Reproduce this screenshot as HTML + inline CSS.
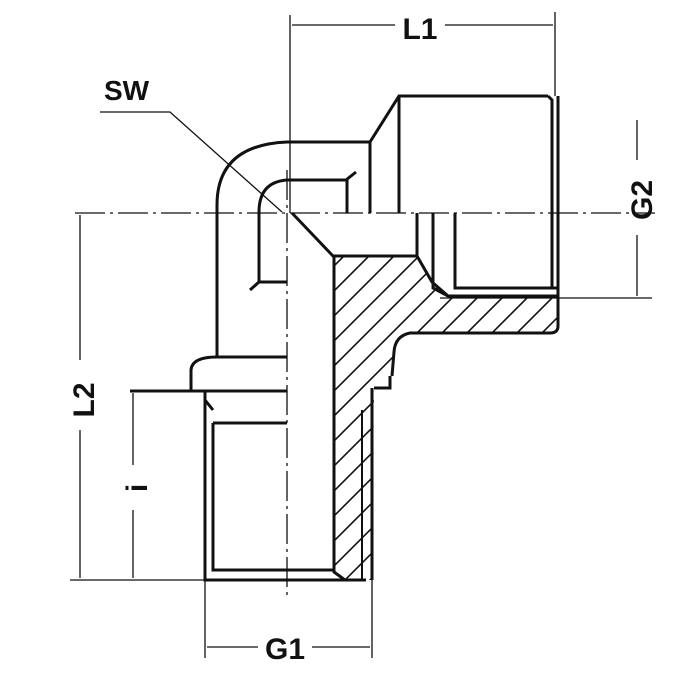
<!DOCTYPE html>
<html><head><style>
html,body{margin:0;padding:0;background:#fff;}
svg{display:block;}
text{font-family:"Liberation Sans",Arial,sans-serif;font-weight:bold;fill:#111;}
</style></head><body>
<svg width="700" height="700" viewBox="0 0 700 700" xmlns="http://www.w3.org/2000/svg">
<defs>
<clipPath id="hc"><path d="M334,257 L417,257 L432,282 L448,296 L552,298 L558,306 L558,326 L550,333 L410,333 Q395,336 394,352 L392,378 L374,388 L372,580 L345,580 L334,570 Z"/></clipPath>
</defs>
<g stroke="#111" fill="none" stroke-width="3">
<path d="M292,213 L333,256 L417,256 L417,213"/>
<path d="M417,256 L432,282 L448,296"/>
<path d="M334,256 L334,572 L345,580"/>
<path d="M370,213 L370,142 L399,96 L548,96"/>
<path d="M399,96 L399,213"/>
<path d="M548,96 L552,100 L552,288"/>
<path d="M558,96 L558,326 Q558,333 550,333 L410,333 Q395,336 394,352 L392,376"/>
<path d="M455,213 L455,288 L558,288"/>
<path d="M433,213 L433,288 L448,296 L558,296"/>
<path d="M287,142 L370,142"/>
<path d="M287,142 Q217,145 217,205 L217,357 L287,357"/>
<path d="M217,357 Q192,357 191,370 L191,391"/>
<path d="M130,391 L287,391"/>
<path d="M287,180 L346,180 L356,172"/>
<path d="M347,180 L347,213"/>
<path d="M287,180 Q259,182 259,212 L259,282 L250,290"/>
<path d="M259,282 L287,282"/>
<path d="M390,376 L390,388 L374,388"/>
<path d="M372,388 L372,580"/>
<path d="M362,410 L362,580" stroke-width="2"/>
<path d="M205,391 L205,580 L366,580"/>
<path d="M213,423 L213,570 L333,570"/>
<path d="M213,423 L287,423"/>
<path d="M205,400 L213,410"/>
</g>
<g clip-path="url(#hc)" stroke="#111" stroke-width="1.6">
<path d="M300,300 L560,40 M300,325 L585,40 M300,350 L610,40 M300,375 L635,40 M300,400 L660,40 M300,425 L685,40 M300,450 L710,40 M300,475 L735,40 M300,500 L760,40 M300,525 L785,40 M300,550 L810,40 M300,575 L835,40 M300,600 L860,40 M300,625 L885,40 M300,650 L910,40 M300,675 L935,40"/>
</g>
<g stroke="#111" stroke-width="1.3" fill="none">
<path d="M287,170 L287,600" stroke-dasharray="30,5,3,5"/>
<path d="M75,213 L655,213" stroke-dasharray="30,5,3,5"/>
<path d="M290,15 L290,213"/>
<path d="M555,12 L555,96"/>
<path d="M292,25 L395,25 M445,25 L553,25"/>
<path d="M440,298 L652,298"/>
<path d="M637,120 L637,160 M637,235 L637,296"/>
<path d="M70,580 L205,580"/>
<path d="M80,215 L80,360 M80,430 L80,578"/>
<path d="M133,393 L133,465 M133,510 L133,578"/>
<path d="M205,580 L205,658 M372,580 L372,658"/>
<path d="M207,647 L258,647 M312,647 L370,647"/>
<path d="M100,112 L170,112 L282,212"/>
</g>
<text x="420" y="39" font-size="30" text-anchor="middle">L1</text>
<text x="104" y="100" font-size="28">SW</text>
<text x="285" y="659" font-size="30" text-anchor="middle">G1</text>
<text transform="translate(652,200) rotate(-90)" font-size="30" text-anchor="middle">G2</text>
<text transform="translate(94,400) rotate(-90)" font-size="30" text-anchor="middle">L2</text>
<text transform="translate(147,488) rotate(-90)" font-size="30" text-anchor="middle">i</text>
</svg>
</body></html>
